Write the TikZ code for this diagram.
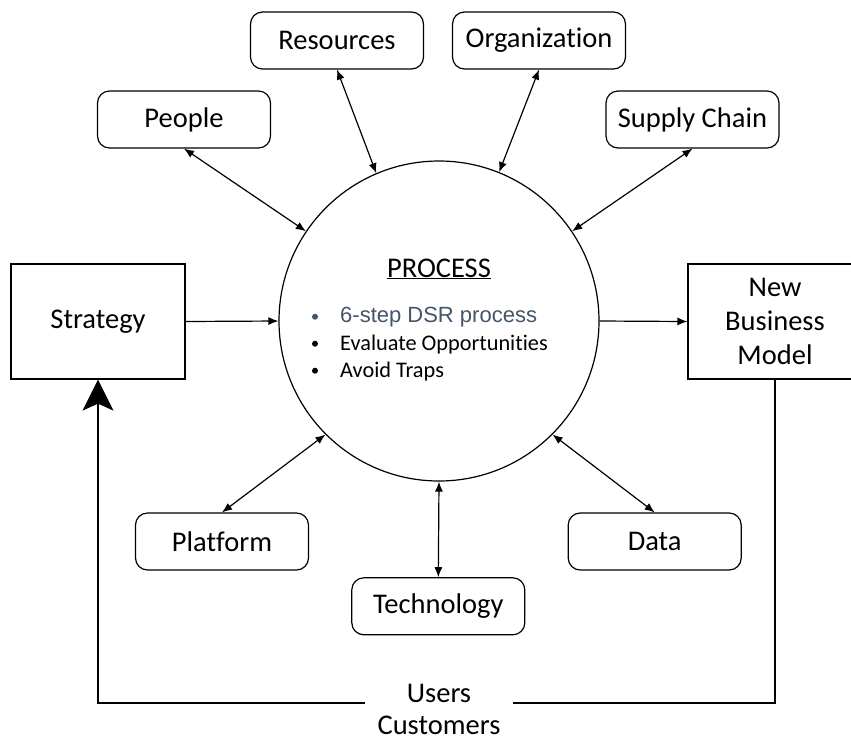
\documentclass[tikz,border=0pt]{standalone}
\usepackage{fontspec}
\setmainfont{Carlito}[RawFeature={-liga;-clig;-calt;-dlig}]
\newfontfamily\stepfont{Liberation Sans}
\usetikzlibrary{arrows.meta}
\definecolor{slate}{HTML}{44546A}

\tikzset{
  factor/.style={draw, rounded corners=12pt, minimum width=173pt, minimum height=57pt, line width=1.2pt},
  block/.style={draw, minimum width=174pt, minimum height=115pt, line width=1.2pt, align=center},
  link/.style={{Latex[length=10pt,width=8pt]}-{Latex[length=10pt,width=8pt]}, line width=1.2pt},
  flow/.style={-{Latex[length=10pt,width=8pt]}, line width=1.2pt},
  steptext/.style={anchor=base west, inner sep=0pt, font=\fontsize{22.3}{26}\selectfont}
}

\begin{document}
\begin{tikzpicture}[x=1pt, y=-1pt, font=\fontsize{28.5}{34}\selectfont]
  \useasboundingbox (0,0) rectangle (851,740);

  % central process
  \node (proc) [circle, draw, line width=1.2pt, minimum size=320pt] at (439,321) {};
  \node (title) [anchor=base, inner sep=0pt] at (439,277) {\underline{PROCESS}};
  \node (step1) [steptext, font=\stepfont\fontsize{22}{26}\selectfont, text=slate] at (340,322.7) {6-step DSR process};
  \node (step2) [steptext] at (340,350) {Evaluate Opportunities};
  \node (step3) [steptext] at (340,377) {Avoid Traps};
  \fill [slate] (315,316.7) circle (3pt);
  \fill (315,343.7) circle (3pt);
  \fill (315,370.7) circle (3pt);

  % factors round the process
  \node (people) [factor] at (184,119.5) {People};
  \node (res) [factor] at (337,40.5) {Resources};
  \node (org) [factor] at (539,40.5) {Organization};
  \node (supply) [factor] at (692.5,119.5) {Supply Chain};
  \node (plat) [factor] at (222,541.5) {Platform};
  \node (tech) [factor] at (438.3,606.3) {Technology};
  \node (data) [factor] at (654.7,541.5) {Data};

  \draw [link] (people.south) -- (proc.146);
  \draw [link] (res.south) -- (proc.113);
  \draw [link] (org.south) -- (proc.68);
  \draw [link] (supply.south) -- (proc.34);
  \draw [link] (plat.north) -- (proc.225);
  \draw [link] (tech.north) -- (proc.south);
  \draw [link] (data.north) -- (proc.-45);

  % strategy in, business model out
  \node (strat) [block] at (98,321.5) {Strategy};
  \node (nbm) [block] at (775,321.5) {New\\Business\\Model};
  \draw [flow] (strat.east) -- (proc.west);
  \draw [flow] (proc.east) -- (nbm.west);

  % feedback from users
  \coordinate (turn) at (775,703);
  \draw [line width=1.2pt, -{Stealth[length=31pt,width=31pt,inset=7pt]}] (nbm.south) -- (turn) -| (strat.south);
  \node (users) [fill=white, minimum width=148pt, inner ysep=2pt, align=center, anchor=north,
    font=\fontsize{28.5}{32}\selectfont] at (439,682) {Users\\Customers};
\end{tikzpicture}
\end{document}
